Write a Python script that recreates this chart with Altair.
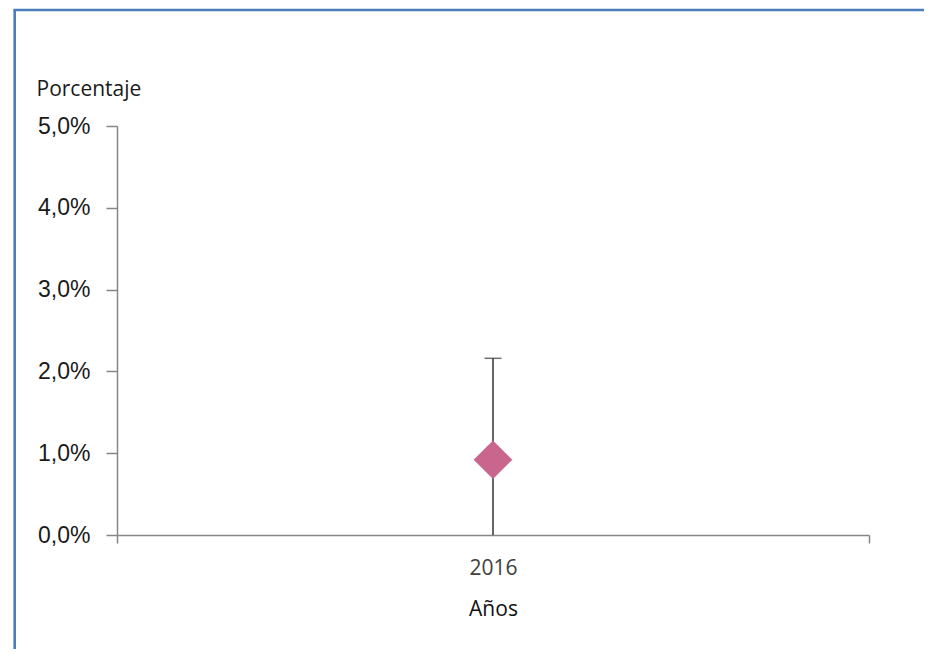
import altair as alt
import pandas as pd

years = ["2016"]
values = [0.92]
lower = [0.0]
upper = [2.16]

df = pd.DataFrame({"year": years, "value": values, "lower": lower, "upper": upper})
one = pd.DataFrame({"k": [0]})

W, H = 752, 409

xenc = alt.X(
    "year:N",
    scale=alt.Scale(paddingInner=0, paddingOuter=0),
    axis=alt.Axis(
        title="Años",
        tickBand="extent",
        labelAngle=0,
        labelFont="Open Sans",
        labelFontSize=21,
        labelColor="#404040",
        labelPadding=14,
        tickSize=8,
        tickColor="#868686",
        tickWidth=1.5,
        domainColor="#868686",
        domainWidth=1.5,
        titleFont="Open Sans",
        titleFontSize=21,
        titleFontWeight=500,
        titleColor="#111111",
        titleBaseline="alphabetic",
        titleY=80,
    ),
)

yscale = alt.Scale(domain=[0, 5], nice=False)
yaxis = alt.Axis(
    title="Porcentaje",
    values=[0, 1, 2, 3, 4, 5],
    labelExpr="replace(format(datum.value, '.1f'), '.', ',') + '%'",
    labelFont="Liberation Sans",
    labelFontSize=23,
    labelColor="#1a1a1a",
    labelPadding=16,
    tickSize=11,
    tickColor="#868686",
    tickWidth=1.5,
    domainColor="#868686",
    domainWidth=1.5,
    grid=False,
    titleAngle=0,
    titleAlign="left",
    titleBaseline="alphabetic",
    titleX=-81,
    titleY=-31,
    titleFont="Open Sans",
    titleFontSize=21,
    titleFontWeight="normal",
    titleColor="#1a1a1a",
)

base = alt.Chart(df)

err = base.mark_rule(color="#333333", strokeWidth=1.5).encode(
    x=xenc,
    y=alt.Y("lower:Q", scale=yscale, axis=yaxis),
    y2="upper:Q",
)
cap = base.mark_tick(color="#333333", size=17, thickness=1.5).encode(
    x=xenc,
    y=alt.Y("upper:Q", scale=yscale),
)
pt = base.mark_point(shape="diamond", filled=True, size=1500, opacity=1,
                     color="#C8668E", strokeWidth=0).encode(
    x=xenc,
    y=alt.Y("value:Q", scale=yscale),
)

border_left = alt.Chart(one).mark_rule(color="#4A7EBB", strokeWidth=2.6, clip=False).encode(
    x=alt.value(-102.3), y=alt.value(-116), y2=alt.value(540)
)
border_top = alt.Chart(one).mark_rule(color="#4A7EBB", strokeWidth=2.6, clip=False).encode(
    x=alt.value(-103.6), x2=alt.value(820), y=alt.value(-116)
)

chart = (
    alt.layer(err, cap, pt, border_left, border_top)
    .properties(
        width=W,
        height=H,
        background="white",
        autosize=alt.AutoSizeParams(type="none"),
        padding={"left": 109, "top": 118, "right": 55, "bottom": 114},
    )
    .configure_view(strokeWidth=0, stroke="transparent")
)

chart.save("out.html", embed_options={"renderer": "svg", "actions": False})
